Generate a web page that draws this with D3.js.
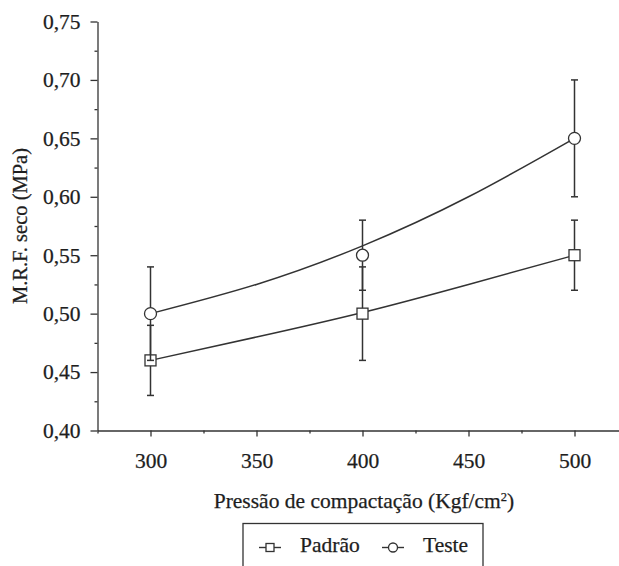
<!DOCTYPE html>
<html>
<head>
<meta charset="utf-8">
<script src="https://cdn.jsdelivr.net/npm/d3@7"></script>
<style>
  body { margin: 0; background: #fff; }
  text { font-family: "Liberation Serif", serif; }
</style>
</head>
<body>
<div id="chart"></div>
<script>
// pressure levels (Kgf/cm2)
const pressures = [300, 400, 500];

// measured means and error bar limits
const padrao = [0.46, 0.50, 0.55];
const padraoLow = [0.43, 0.46, 0.52];
const padraoHigh = [0.49, 0.54, 0.58];

const teste = [0.50, 0.55, 0.65];
const testeLow = [0.46, 0.52, 0.60];
const testeHigh = [0.54, 0.58, 0.70];

// fitted trend lines
const fitX = [300, 350, 400, 450, 500];
const padraoFit = [0.46, 0.48, 0.501, 0.525, 0.55];
const testeFit = [0.50, 0.525, 0.558, 0.60, 0.65];

const yTicks = [0.40, 0.45, 0.50, 0.55, 0.60, 0.65, 0.70, 0.75];
const yMinor = [0.425, 0.475, 0.525, 0.575, 0.625, 0.675, 0.725];
const xTicks = [300, 350, 400, 450, 500];
const xMinor = [275, 325, 375, 425, 475, 525];

const width = 619,
  height = 566;
const ink = "#333";
const textInk = "#1e1e1e";
const serif = "Liberation Serif";
const fontSize = 21.5;

const svg = d3
  .select("#chart")
  .append("svg")
  .attr("width", width)
  .attr("height", height);

const x = d3.scaleLinear().domain([275, 525]).range([97.5, 627.5]);
const y = d3.scaleLinear().domain([0.40, 0.75]).range([430.5, 21.5]);

const comma = (d) => d3.format(".2f")(d).replace(".", ",");

const styleText = (sel) =>
  sel
    .attr("font-family", serif)
    .style("font-family", serif)
    .attr("fill", textInk)
    .attr("stroke", textInk)
    .attr("stroke-width", 0.25);

const styleAxis = (g) => {
  g.attr("font-family", serif).attr("font-size", fontSize);
  g.selectAll("path, line").attr("stroke", ink).attr("stroke-width", 1.3);
  g.selectAll("text").call(styleText);
};

// axes
svg
  .append("g")
  .attr("transform", `translate(0,${y(0.40)})`)
  .call(
    d3.axisBottom(x).tickValues(xMinor).tickSize(3).tickSizeOuter(0).tickFormat("")
  )
  .call(styleAxis);

svg
  .append("g")
  .attr("transform", `translate(0,${y(0.40)})`)
  .call(
    d3.axisBottom(x).tickValues(xTicks).tickSize(6).tickSizeOuter(0).tickPadding(16)
  )
  .call((g) => g.select(".domain").remove())
  .call(styleAxis);

svg
  .append("g")
  .attr("transform", `translate(${x(275)},0)`)
  .call(
    d3.axisLeft(y).tickValues(yMinor).tickSize(3).tickSizeOuter(0).tickFormat("")
  )
  .call(styleAxis);

svg
  .append("g")
  .attr("transform", `translate(${x(275)},0)`)
  .call(
    d3.axisLeft(y).tickValues(yTicks).tickSize(7).tickSizeOuter(0).tickPadding(10).tickFormat(comma)
  )
  .call((g) => g.select(".domain").remove())
  .call(styleAxis);

// axis titles
const xTitle = svg
  .append("text")
  .attr("x", 364)
  .attr("y", 508)
  .attr("text-anchor", "middle")
  .style("font-size", `${fontSize}px`)
  .call(styleText);
xTitle.append("tspan").text("Pressão de compactação (Kgf/cm");
xTitle.append("tspan").attr("dy", -7).style("font-size", "12.5px").text("2");
xTitle.append("tspan").attr("dy", 7).text(")");

svg
  .append("text")
  .attr("transform", "translate(27,226) rotate(-90)")
  .attr("text-anchor", "middle")
  .style("font-size", "20.5px")
  .call(styleText)
  .text("M.R.F. seco (MPa)");

const line = d3
  .line()
  .x((d) => x(d[0]))
  .y((d) => y(d[1]))
  .curve(d3.curveNatural);

const series = [
  { name: "Padrão", mean: padrao, low: padraoLow, high: padraoHigh, fit: padraoFit, shape: "square" },
  { name: "Teste", mean: teste, low: testeLow, high: testeHigh, fit: testeFit, shape: "circle" },
];

const drawMarker = (g, shape, cx, cy, size) => {
  if (shape === "square") {
    g.append("rect")
      .attr("x", cx - size / 2)
      .attr("y", cy - size / 2)
      .attr("width", size)
      .attr("height", size)
      .attr("fill", "#fff")
      .attr("stroke", ink)
      .attr("stroke-width", 1.3);
  } else {
    g.append("circle")
      .attr("cx", cx)
      .attr("cy", cy)
      .attr("r", size / 2 + 0.5)
      .attr("fill", "#fff")
      .attr("stroke", ink)
      .attr("stroke-width", 1.3);
  }
};

series.forEach((s) => {
  const g = svg.append("g");

  g.append("path")
    .datum(fitX.map((v, i) => [v, s.fit[i]]))
    .attr("d", line)
    .attr("fill", "none")
    .attr("stroke", ink)
    .attr("stroke-width", 1.5);

  pressures.forEach((p, i) => {
    const px = x(p);
    g.append("line")
      .attr("x1", px)
      .attr("x2", px)
      .attr("y1", y(s.low[i]))
      .attr("y2", y(s.high[i]))
      .attr("stroke", ink)
      .attr("stroke-width", 1.5);
    [s.low[i], s.high[i]].forEach((v) => {
      g.append("line")
        .attr("x1", px - 3.5)
        .attr("x2", px + 3.5)
        .attr("y1", y(v))
        .attr("y2", y(v))
        .attr("stroke", ink)
        .attr("stroke-width", 1.5);
    });
  });

  pressures.forEach((p, i) => drawMarker(g, s.shape, x(p), y(s.mean[i]), 11));
});

// legend
const legend = svg.append("g");
legend
  .append("rect")
  .attr("x", 243)
  .attr("y", 523.5)
  .attr("width", 240)
  .attr("height", 60)
  .attr("fill", "#fff")
  .attr("stroke", ink)
  .attr("stroke-width", 1.3);

const legendItems = [
  { x: 259, textX: 300 },
  { x: 382, textX: 423 },
];
series.forEach((s, i) => {
  const it = legendItems[i];
  legend
    .append("line")
    .attr("x1", it.x)
    .attr("x2", it.x + 22)
    .attr("y1", 547.5)
    .attr("y2", 547.5)
    .attr("stroke", ink)
    .attr("stroke-width", 1.4);
  drawMarker(legend, s.shape, it.x + 11, 547.5, 8);
  legend
    .append("text")
    .attr("x", it.textX)
    .attr("y", 552)
    .style("font-size", `${fontSize}px`)
    .call(styleText)
    .text(s.name);
});
</script>
</body>
</html>
